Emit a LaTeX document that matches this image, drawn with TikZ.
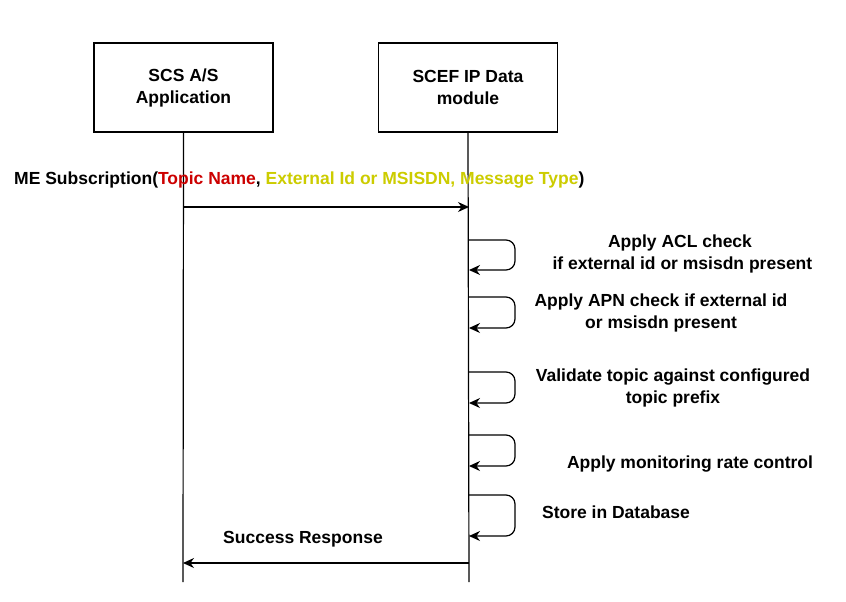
\documentclass[tikz,border=0pt]{standalone}
\usepackage{fontspec}
\setmainfont{Liberation Sans}
\usetikzlibrary{arrows.meta, positioning}
\definecolor{topicred}{HTML}{CC0000}
\definecolor{fieldyel}{HTML}{CCCC00}
\tikzset{
	actor/.style={draw, line width=1.2pt, minimum width=179pt, minimum height=89pt, align=center, font=\bfseries\fontsize{17.5}{22}\selectfont},
	lbl/.style={align=center, font=\bfseries\fontsize{17.5}{22}\selectfont},
	msg/.style={line width=1.2pt, -{Stealth[length=11pt,width=10pt]}},
	loop/.style={line width=1.2pt, -{Stealth[length=11pt,width=10pt]}, rounded corners=9pt}
}
\begin{document}
\begin{tikzpicture}[x=1pt,y=-1pt]
	\useasboundingbox (0,0) rectangle (846,602);
	\node[actor] (scs) at (183.5,87.5) {SCS A/S\\Application};
	\node[actor] (scef) at (468,87.5) {SCEF IP Data\\module};

	\coordinate (scsEnd) at (183,582);
	\coordinate (scefEnd) at (469,582);
	\draw[line width=1.2pt] (scs.south) -- (scsEnd);
	\draw[line width=1.2pt] (scef.south) -- (scefEnd);

	% subscription request
	\coordinate (reqA) at (183,207);
	\coordinate (reqB) at (469,207);
	\draw[msg] (reqA) -- (reqB);
	\node[lbl, anchor=west, inner sep=0pt] (req) at (14,180) {ME Subscription(\textcolor{topicred}{Topic Name}, \textcolor{fieldyel}{External Id or MSISDN, Message Type})};

	% self checks
	\foreach \ya/\yb/\n in {240/270/1, 297/328/2, 372/403/3, 435/466/4, 495/536/5}{
		\coordinate (s\n) at (469,\ya);
		\coordinate (e\n) at (469,\yb);
		\draw[loop] (s\n) -- (515,\ya) -- (515,\yb) -- (e\n);
	}
	\node[lbl] (acl) at (680,254) {Apply ACL check\\ \ if external id or msisdn present};
	\node[lbl] (apn) at (661,313) {Apply APN check if external id\\or msisdn present};
	\node[lbl] (topic) at (673,388) {Validate topic against configured\\topic prefix};
	\node[lbl] (rate) at (690,464) {Apply monitoring rate control};
	\node[lbl] (store) at (616,512) {Store in Database};

	% response
	\coordinate (resA) at (469,563);
	\coordinate (resB) at (183,563);
	\draw[msg] (resA) -- (resB);
	\node[lbl] (res) at (303,539) {Success Response};
\end{tikzpicture}
\end{document}
